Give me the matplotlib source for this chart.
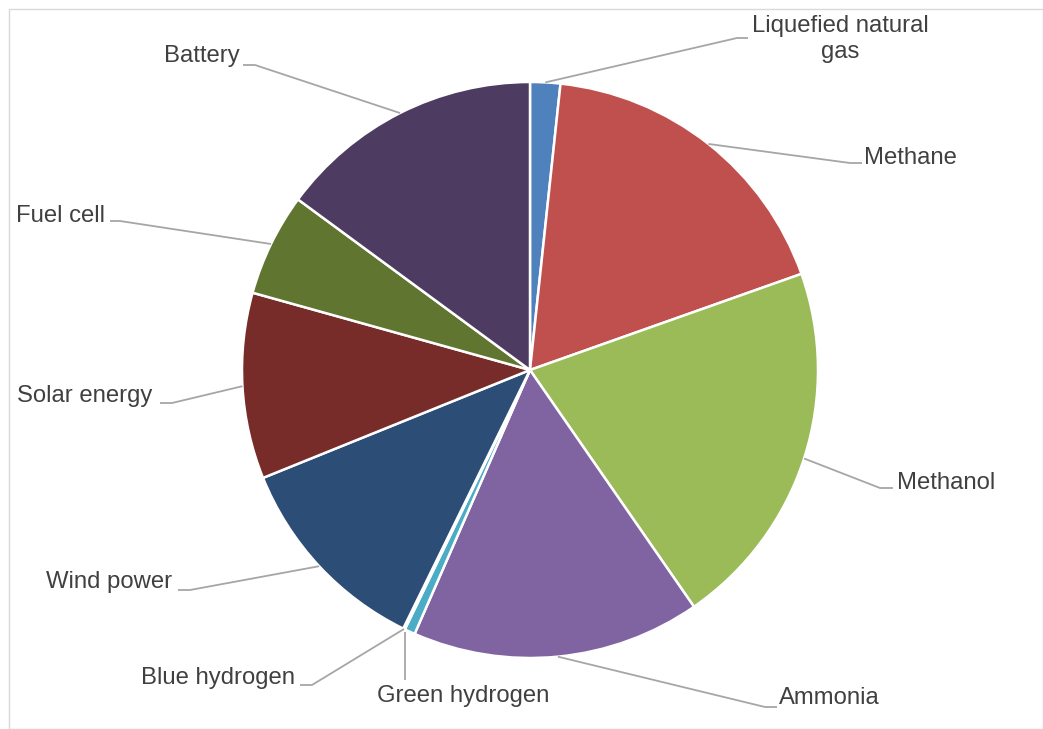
import numpy as np
import matplotlib.pyplot as plt
from matplotlib.patches import Rectangle

plt.rcParams["font.family"] = ["Liberation Sans", "DejaVu Sans"]

# slice data, clockwise from 12 o'clock
categories = [
    "Liquefied natural\ngas",
    "Methane",
    "Methanol",
    "Ammonia",
    "Green hydrogen",
    "Blue hydrogen",
    "Wind power",
    "Solar energy",
    "Fuel cell",
    "Battery",
]
shares = [1.7, 18.0, 20.9, 16.3, 0.6, 0.1, 11.7, 10.5, 5.8, 15.0]
colors = [
    "#4F81BD", "#C0504D", "#9BBB59", "#8064A2", "#4BACC6",
    "#F79646", "#2C4D75", "#772C2A", "#5F7530", "#4D3B62",
]

# label layout in pixel space (y measured from top): text pos, align, elbow
label_pos = [
    (840, 39, "center", (737, 38), (748, 38)),
    (864, 158, "left", (850, 163), (862, 163)),
    (897, 483, "left", (880, 488), (893, 488)),
    (779, 698, "left", (765, 707), (777, 707)),
    (463, 696, "center", (405, 680), (405, 680)),
    (295, 678, "right", (312, 685), (300, 685)),
    (172, 582, "right", (190, 590), (178, 590)),
    (152, 396, "right", (172, 403), (160, 403)),
    (105, 216, "right", (120, 221), (110, 221)),
    (240, 56, "right", (255, 65), (243, 65)),
]

W, H = 1043, 729
cx, cy, R = 530, 370, 288

fig = plt.figure(figsize=(W / 100, H / 100), dpi=100)
ax = fig.add_axes([0, 0, 1, 1])

wedges, _ = ax.pie(
    shares, colors=colors, startangle=90, counterclock=False,
    center=(cx, H - cy), radius=R,
    wedgeprops=dict(edgecolor="white", linewidth=1.8),
)
ax.set_xlim(0, W)
ax.set_ylim(0, H)
ax.set_aspect("auto")
ax.axis("off")

lc = "#A6A6A6"
for w, name, (tx, ty, ha, p1, p2) in zip(wedges, categories, label_pos):
    mid = np.deg2rad((w.theta1 + w.theta2) / 2)
    sx = cx + R * np.cos(mid)
    sy = (H - cy) + R * np.sin(mid)
    if name == "Green hydrogen":
        sx = p1[0]
    xs = [sx, p1[0], p2[0]]
    ys = [sy, H - p1[1], H - p2[1]]
    ax.plot(xs, ys, color=lc, lw=1.3, solid_capstyle="butt")
    ax.text(tx, H - ty, name, ha=ha, va="center", fontsize=17.2,
            color="#404040", linespacing=1.2)

fig.patches.append(Rectangle((8.5 / W, 0), (W - 9) / W, (H - 8.5) / H,
                             transform=fig.transFigure, fill=False,
                             edgecolor="#D9D9D9", lw=1.0))

fig.savefig("out.png", dpi=100)
